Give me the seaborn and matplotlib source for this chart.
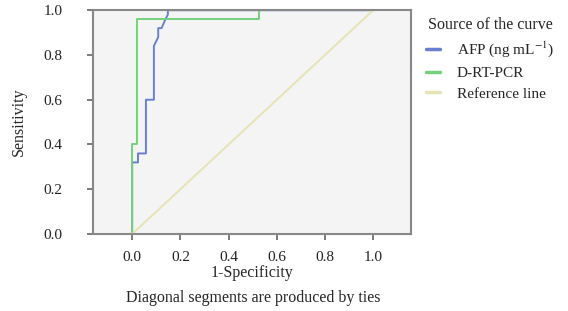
import numpy as np
import pandas as pd
import matplotlib
matplotlib.use('Agg')
import matplotlib.pyplot as plt
import seaborn as sns

# ROC curve points (1-specificity, sensitivity)
afp_fpr = [0.0, 0.0, 0.024, 0.024, 0.057, 0.057, 0.090, 0.090, 0.108, 0.108, 0.122, 0.138, 0.148, 0.148, 1.0]
afp_tpr = [0.0, 0.32, 0.32, 0.36, 0.36, 0.60, 0.60, 0.84, 0.88, 0.92, 0.92, 0.96, 0.98, 1.0, 1.0]

pcr_fpr = [0.0, 0.0, 0.02, 0.02, 0.527, 0.527, 1.0]
pcr_tpr = [0.0, 0.40, 0.40, 0.96, 0.96, 1.0, 1.0]

ref_fpr = [0.0, 1.0]
ref_tpr = [0.0, 1.0]

series_names = ['AFP (ng mL$^{-1}$)', 'D-RT-PCR', 'Reference line']
series_colors = ['#6a80cf', '#74d27c', '#e6e3b5']

frames = []
for name, fx, fy in zip(series_names, [afp_fpr, pcr_fpr, ref_fpr], [afp_tpr, pcr_tpr, ref_tpr]):
    frames.append(pd.DataFrame({'fpr': fx, 'tpr': fy, 'curve': name, 'order': range(len(fx))}))
df = pd.concat(frames, ignore_index=True)

sns.set_style('ticks')
plt.rcParams['font.family'] = ['Liberation Serif', 'DejaVu Serif']
plt.rcParams['mathtext.fontset'] = 'stix'

fig = plt.figure(figsize=(5.68, 3.11), dpi=100)
ax = fig.add_axes([0.164, 0.2476, 0.560, 0.7195])
ax.set_facecolor('#f4f4f4')

sns.lineplot(data=df, x='fpr', y='tpr', hue='curve', units='curve', estimator=None,
             sort=False, palette=dict(zip(series_names, series_colors)),
             linewidth=1.4, ax=ax, legend=True)

ax.set_xlim(-0.162, 1.158)
ax.set_ylim(0, 1.0)
ax.set_xticks([0.0, 0.2, 0.4, 0.6, 0.8, 1.0])
ax.set_yticks([0.0, 0.2, 0.4, 0.6, 0.8, 1.0])
ax.set_xticklabels(['0.0', '0.2', '0.4', '0.6', '0.8', '1.0'])
ax.set_yticklabels(['0.0', '0.2', '0.4', '0.6', '0.8', '1.0'])
ax.tick_params(labelsize=11, labelcolor='#222222', color='#666666', length=4, width=1.2)
ax.tick_params(axis='x', pad=8)
ax.tick_params(axis='y', pad=18)
for s in ax.spines.values():
    s.set_color('#888888')
    s.set_linewidth(1.5)

ax.set_xlabel('1-Specificity', fontsize=11.5, labelpad=1)
ax.set_ylabel('Sensitivity', fontsize=11.5, labelpad=12)
fig.text(0.445, 0.03, 'Diagonal segments are produced by ties', ha='center', fontsize=11.5)

handles, labels = ax.get_legend_handles_labels()
leg = ax.legend(handles, labels, title='Source of the curve', loc='upper left',
                bbox_to_anchor=(0.726, 0.99), bbox_transform=fig.transFigure,
                frameon=False, fontsize=11, title_fontsize=11.5, handlelength=0.9,
                handletextpad=1.1, labelspacing=0.45)
for line in leg.get_lines():
    line.set_linewidth(2.5)

fig.savefig('out.png', dpi=100)
